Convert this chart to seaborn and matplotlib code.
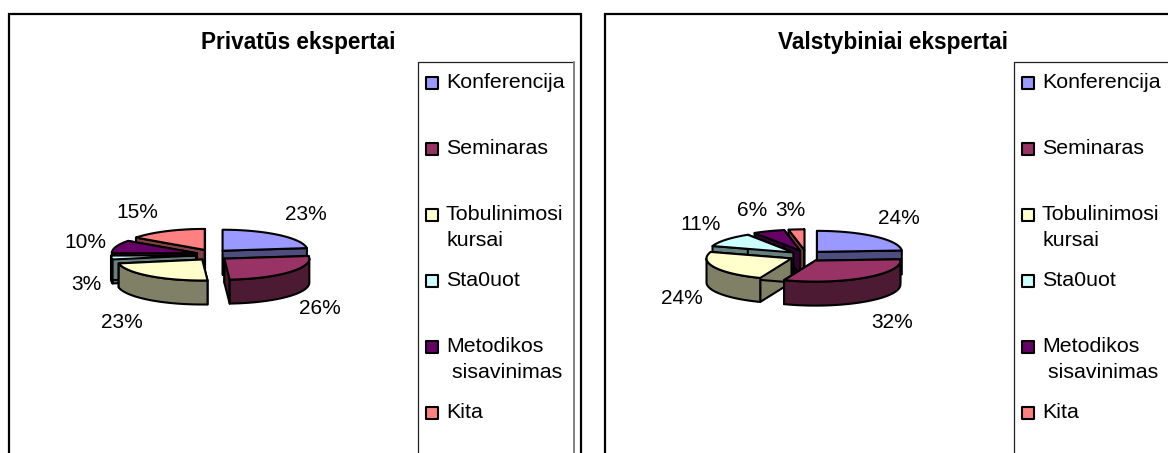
import numpy as np
import matplotlib
matplotlib.use("Agg")
import matplotlib.pyplot as plt
from matplotlib.patches import Polygon
import seaborn as sns

categories = ["Konferencija", "Seminaras", "Tobulinimosi\nkursai", "Sta0uot", "Metodikos\n sisavinimas", "Kita"]
privatus = [23, 26, 23, 3, 10, 15]
valstybiniai = [24, 32, 24, 11, 6, 3]
title_left = "Privatūs ekspertai"
title_right = "Valstybiniai ekspertai"
colors = ["#9999FF", "#993366", "#FFFFCC", "#CCFFFF", "#660066", "#FF8080"]

sns.set_theme(style="white")
plt.rcParams["font.family"] = ["Liberation Sans", "DejaVu Sans"]
palette = sns.color_palette(colors)

W, H = 1168, 453
RX, RY, DEPTH, EXPL, EXPL_Y = 85, 21, 24, 16, 5.7
fig = plt.figure(figsize=(W / 100, H / 100), dpi=100)
ax = fig.add_axes([0, 0, 1, 1])
ax.set_xlim(0, W)
ax.set_ylim(H, 0)
ax.axis("off")


def pie3d(values, cx, cy):
    total = sum(values)
    edges = np.cumsum([0] + list(values)) / total * 360.0
    items = []
    for i, v in enumerate(values):
        a0, a1 = edges[i], edges[i + 1]
        mid = np.radians((a0 + a1) / 2)
        items.append((np.cos(mid), i, a0, a1, mid))
    for _, i, a0, a1, mid in sorted(items, key=lambda t: -t[0]):
        ox = cx + EXPL * np.sin(mid)
        oy = cy - EXPL_Y * np.cos(mid)
        top_c = palette[i]
        side_c = tuple(c * 0.5 for c in top_c)
        def pt(d):
            r = np.radians(d)
            return (ox + RX * np.sin(r), oy - RY * np.cos(r))
        kw = dict(edgecolor="black", linewidth=1.5, joinstyle="round", closed=True)
        for a in (a0, a1):
            x, y = pt(a)
            ax.add_patch(Polygon([(ox, oy), (x, y), (x, y + DEPTH), (ox, oy + DEPTH)], facecolor=side_c, **kw))
        lo, hi = max(a0, 90), min(a1, 270)
        if hi > lo:
            arc = [pt(d) for d in np.linspace(lo, hi, 40)]
            low = [(x, y + DEPTH) for x, y in arc[::-1]]
            ax.add_patch(Polygon(arc + low, facecolor=side_c, **kw))
        top = [(ox, oy)] + [pt(d) for d in np.linspace(a0, a1, 60)]
        ax.add_patch(Polygon(top, facecolor=top_c, **kw))


def panel(x0, x1, title, title_x, values, cx, cy, label_pos, lx0, lx1):
    ax.plot([x0, x0, x1], [H + 5, 13.5, 13.5], color="black", lw=1.6, solid_joinstyle="miter")
    if x1 < W:
        ax.plot([x1, x1], [13.5, H + 5], color="black", lw=1.6)
    ax.text(title_x, 43, title, ha="center", va="center", fontsize=16.3, fontweight="bold", color="black")
    pie3d(values, cx, cy)
    for v, (px, py) in zip(values, label_pos):
        ax.text(px, py, f"{v}%", ha="center", va="center", fontsize=15, color="black")
    ax.plot([lx0, lx0, lx1], [H + 5, 62, 62], color="#222222", lw=0.9)
    ax.plot([lx1, lx1], [62, H + 5], color="#808080", lw=1.4)
    for i, name in enumerate(categories):
        y = 83 + i * 66
        ax.scatter([lx0 + 14], [y], marker="s", s=75, color=palette[i], edgecolor="black", linewidth=1.5, zorder=3)
        ax.text(lx0 + 28, y - 9.5, name, ha="left", va="top", fontsize=15.4, color="black", linespacing=1.46)


panel(8.5, 581, title_left, 298.5, privatus, 212, 255,
      [(306, 214), (320, 309), (122, 323), (86, 284), (85, 242), (137, 212)], 418, 574)
panel(605, W + 5, title_right, 893.5, valstybiniai, 806, 256,
      [(899, 218), (892, 323), (682, 299), (701, 224), (752, 211), (790, 210)], 1014, W + 5)

fig.savefig("out.png", dpi=100)
